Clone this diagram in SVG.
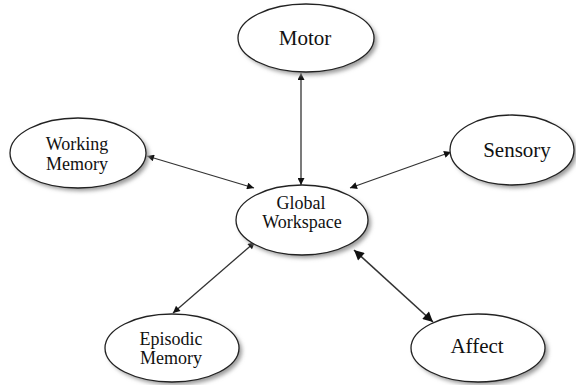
<svg xmlns="http://www.w3.org/2000/svg" width="576" height="385" viewBox="0 0 576 385">
<style>
.n ellipse.s{fill:#999;filter:url(#blur)}
.n ellipse.b{fill:#fff;stroke:#222;stroke-width:1.3}
.n text{font-family:"Liberation Serif","Times New Roman",serif;fill:#111;text-anchor:middle}
.big{font-size:21px}
.sm{font-size:18px}
#edges line{stroke:#333;stroke-width:1.3;marker-start:url(#a);marker-end:url(#a)}
#edges line.heavy{stroke-width:1.6;marker-start:url(#a2);marker-end:url(#a2)}
</style>
<defs>
<filter id="blur" x="-20%" y="-20%" width="140%" height="140%"><feGaussianBlur stdDeviation="2"/></filter>
<marker id="a" viewBox="0 0 10 10" refX="10" refY="5" markerWidth="9" markerHeight="7" orient="auto-start-reverse" markerUnits="userSpaceOnUse"><path d="M0,0 L10,5 L0,10 z" fill="#111"/></marker>
<marker id="a2" viewBox="0 0 10 10" refX="10" refY="5" markerWidth="13" markerHeight="10" orient="auto-start-reverse" markerUnits="userSpaceOnUse"><path d="M0,0 L10,5 L0,10 z" fill="#111"/></marker>
</defs>
<rect width="576" height="385" fill="#fff"/>
<g id="edges">
<line x1="301" y1="73" x2="301" y2="185"/>
<line x1="147" y1="156" x2="254" y2="188"/>
<line x1="451" y1="152" x2="350" y2="188"/>
<line x1="173" y1="313" x2="255" y2="242"/>
<line class="heavy" x1="354" y1="250" x2="433" y2="322"/>
</g>
<g id="motor" class="n"><ellipse class="s" cx="309" cy="41" rx="68" ry="34"/><ellipse class="b" cx="306" cy="38" rx="68" ry="34"/><text class="big" x="305" y="45">Motor</text></g>
<g id="working" class="n"><ellipse class="s" cx="81" cy="156" rx="68" ry="35"/><ellipse class="b" cx="78" cy="153" rx="68" ry="35"/><text class="sm" x="77" y="150">Working</text><text class="sm" x="77" y="170">Memory</text></g>
<g id="global" class="n"><ellipse class="s" cx="305" cy="223" rx="66" ry="35"/><ellipse class="b" cx="302" cy="220" rx="66" ry="35"/><text class="sm" x="301" y="209">Global</text><text class="sm" x="302" y="228">Workspace</text></g>
<g id="sensory" class="n"><ellipse class="s" cx="515" cy="153" rx="62" ry="35"/><ellipse class="b" cx="512" cy="150" rx="62" ry="35"/><text class="big" x="517" y="157">Sensory</text></g>
<g id="episodic" class="n"><ellipse class="s" cx="175" cy="351" rx="67" ry="34"/><ellipse class="b" cx="172" cy="348" rx="67" ry="34"/><text class="sm" x="171" y="345">Episodic</text><text class="sm" x="171" y="364">Memory</text></g>
<g id="affect" class="n"><ellipse class="s" cx="481" cy="351" rx="67" ry="34"/><ellipse class="b" cx="478" cy="348" rx="67" ry="34"/><text class="big" x="477" y="353">Affect</text></g>
</svg>
